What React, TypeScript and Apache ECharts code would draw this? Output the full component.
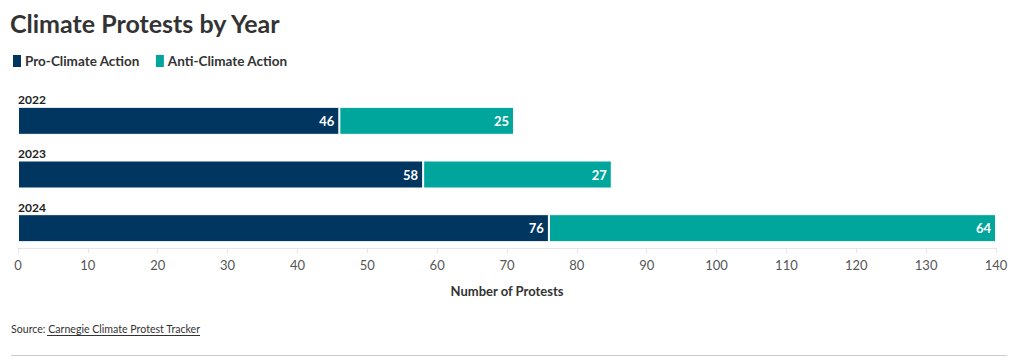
import React, { useEffect, useRef } from "react";
import * as echarts from "echarts";

const years = ["2022", "2023", "2024"];
const proClimate = [46, 58, 76];
const antiClimate = [25, 27, 64];
const xTicks = { min: 0, max: 140, interval: 10 };

const FONT = "Lato, 'Noto Sans', sans-serif";
const NAVY = "#00365f";
const TEAL = "#00a69c";

export default function App() {
  const ref = useRef<HTMLDivElement>(null);
  useEffect(() => {
    if (!ref.current) return;
    const chart = echarts.init(ref.current, null, { renderer: "svg" });
    const labelStyle = {
      show: true,
      position: "insideRight" as const,
      distance: 5,
      color: "#ffffff",
      fontWeight: "bold" as const,
      fontSize: 13,
      fontFamily: FONT,
    };
    chart.setOption({
      animation: false,
      textStyle: { fontFamily: FONT },
      title: {
        text: "Climate Protests by Year",
        left: 10,
        top: 10,
        padding: 0,
        textStyle: { fontSize: 25, fontWeight: "bold", color: "#333333", fontFamily: FONT },
      },
      legend: {
        left: 11,
        top: 53,
        padding: 0,
        itemWidth: 10,
        itemHeight: 14,
        itemGap: 14,
        icon: "rect",
        textStyle: { fontSize: 13.5, fontWeight: "bold", color: "#333333", fontFamily: FONT, padding: [0, 0, 0, -2] },
        data: ["Pro-Climate Action", "Anti-Climate Action"],
      },
      grid: { left: 18, right: 24, top: 94, height: 161, containLabel: false },
      xAxis: {
        type: "value",
        min: xTicks.min,
        max: xTicks.max,
        interval: xTicks.interval,
        offset: -7,
        name: "Number of Protests",
        nameLocation: "middle",
        nameGap: 36,
        nameTextStyle: { fontSize: 13, fontWeight: "bold", color: "#333333", fontFamily: FONT },
        axisLine: { show: true, lineStyle: { color: "#e6e6e6" } },
        axisTick: { show: true, length: 5, lineStyle: { color: "#e6e6e6" } },
        axisLabel: { color: "#555555", fontSize: 13, margin: 10, fontFamily: FONT },
        splitLine: { show: false },
      },
      yAxis: {
        type: "category",
        data: years,
        inverse: true,
        axisLine: { show: false },
        axisTick: { show: false },
        axisLabel: {
          inside: true,
          margin: 0,
          align: "left",
          verticalAlign: "bottom",
          padding: [0, 0, 15, 0],
          color: "#222222",
          fontWeight: "bold",
          fontSize: 12,
          fontFamily: FONT,
        },
      },
      series: [
        {
          name: "Pro-Climate Action",
          type: "bar",
          stack: "total",
          data: proClimate,
          barWidth: 28,
          itemStyle: { color: NAVY, borderColor: "#ffffff", borderWidth: 1 },
          label: labelStyle,
        },
        {
          name: "Anti-Climate Action",
          type: "bar",
          stack: "total",
          data: antiClimate,
          barWidth: 28,
          itemStyle: { color: TEAL, borderColor: "#ffffff", borderWidth: 1 },
          label: labelStyle,
        },
      ],
      graphic: [
        {
          type: "text",
          left: 11,
          top: 323,
          style: {
            text: "Source: Carnegie Climate Protest Tracker",
            fontSize: 10.6,
            fill: "#333333",
            fontFamily: FONT,
          },
        },
        {
          type: "line",
          shape: { x1: 47, y1: 335.5, x2: 200, y2: 335.5 },
          style: { stroke: "#333333", lineWidth: 1 },
        },
        {
          type: "line",
          shape: { x1: 11, y1: 355.5, x2: 1007, y2: 355.5 },
          style: { stroke: "#cccccc", lineWidth: 1 },
        },
      ],
    });
    return () => chart.dispose();
  }, []);
  return (
    <div
      ref={ref}
      style={{ position: "fixed", left: 0, top: 0, width: 1020, height: 361, background: "#ffffff" }}
    />
  );
}
